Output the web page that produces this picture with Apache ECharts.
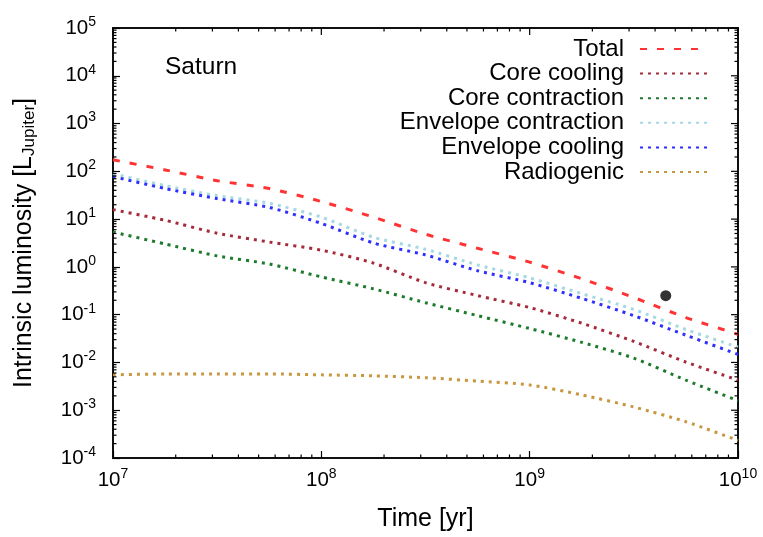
<!DOCTYPE html>
<html>
<head>
<meta charset="utf-8">
<script src="https://cdn.jsdelivr.net/npm/echarts@6/dist/echarts.min.js"></script>
<style>
  html, body { margin: 0; padding: 0; background: #fff; }
  #chart { width: 763px; height: 537px; }
</style>
</head>
<body>
<div id="chart"></div>
<script>
// Time grid (yr) on which the luminosity components are tabulated
const times = [1e7, 1.78e7, 3.16e7, 5.62e7, 1e8, 1.78e8, 3.16e8, 5.62e8, 1e9, 1.78e9, 3.16e9, 5.62e9, 1e10];

// Intrinsic luminosity components [L_Jupiter]
const total               = [174, 107, 63.8, 43.6, 23.4, 11.0, 4.84, 2.45, 1.26, 0.562, 0.229, 0.087, 0.039];
const coreCooling         = [15.8, 9.44, 5.07, 3.31, 2.24, 1.20, 0.468, 0.251, 0.141, 0.0661, 0.0275, 0.0102, 0.00427];
const coreContraction     = [5.37, 3.02, 1.70, 1.15, 0.617, 0.347, 0.178, 0.0955, 0.0513, 0.0263, 0.0123, 0.00427, 0.00158];
const envelopeContraction = [89.1, 50.1, 30.9, 21.4, 11.0, 4.17, 2.34, 1.10, 0.589, 0.275, 0.129, 0.049, 0.0209];
const envelopeCooling     = [77.6, 43.6, 26.9, 17.6, 8.13, 3.16, 1.78, 0.832, 0.468, 0.219, 0.0955, 0.0372, 0.0148];
const radiogenic          = [0.0055, 0.00575, 0.00575, 0.00575, 0.0055, 0.00525, 0.00479, 0.00407, 0.00339, 0.00209, 0.00117, 0.000575, 0.000234];

// Present-day Saturn
const saturnNow = [[4.5e9, 0.25]];

// Axis ranges and log minor-tick multipliers
const xRange = [1e7, 1e10];
const yRange = [1e-4, 1e5];
const xDecades = [7, 8, 9, 10];
const yDecades = [-4, -3, -2, -1, 0, 1, 2, 3, 4, 5];
const minorMultipliers = [2, 3, 4, 5, 6, 7, 8, 9];

const FONT = 'Liberation Sans, Arial, Helvetica, sans-serif';

function pairs(xs, ys) { return xs.map((x, i) => [x, ys[i]]); }

function powLabel(v) {
  const e = Math.round(Math.log10(v));
  return '{b|10}{s|' + e + '}';
}
const powRich = {
  b: { fontSize: 20.5, fontFamily: FONT, color: '#000', lineHeight: 24 },
  s: { fontSize: 14, fontFamily: FONT, color: '#000', lineHeight: 24, padding: [0, 0, 12, 0] }
};

// tick positions: majors on top/right, minors on all four sides
const xTickItems = [];
const yTickItems = [];
xDecades.forEach((d, i) => {
  xTickItems.push([Math.pow(10, d), yRange[0], 1]);
  if (i < xDecades.length - 1) minorMultipliers.forEach(m => xTickItems.push([m * Math.pow(10, d), yRange[0], 0]));
});
yDecades.forEach((d, i) => {
  yTickItems.push([xRange[0], Math.pow(10, d), 1]);
  if (i < yDecades.length - 1) minorMultipliers.forEach(m => yTickItems.push([xRange[0], m * Math.pow(10, d), 0]));
});

const TICK_MAJOR = 7, TICK_MINOR = 3.5;
function xTickRender(params, api) {
  const v = api.value(0);
  const major = api.value(2) === 1;
  const lo = api.coord([v, yRange[0]]);
  const hi = api.coord([v, yRange[1]]);
  const len = major ? TICK_MAJOR : TICK_MINOR;
  const style = { stroke: '#000', lineWidth: 1.2 };
  const children = [
    { type: 'line', shape: { x1: hi[0], y1: hi[1], x2: hi[0], y2: hi[1] + len }, style }
  ];
  if (!major) children.push({ type: 'line', shape: { x1: lo[0], y1: lo[1], x2: lo[0], y2: lo[1] - len }, style });
  return { type: 'group', children };
}
function yTickRender(params, api) {
  const v = api.value(1);
  const major = api.value(2) === 1;
  const lo = api.coord([xRange[0], v]);
  const hi = api.coord([xRange[1], v]);
  const len = major ? TICK_MAJOR : TICK_MINOR;
  const style = { stroke: '#000', lineWidth: 1.2 };
  const children = [
    { type: 'line', shape: { x1: hi[0], y1: hi[1], x2: hi[0] - len, y2: hi[1] }, style }
  ];
  if (!major) children.push({ type: 'line', shape: { x1: lo[0], y1: lo[1], x2: lo[0] + len, y2: lo[1] }, style });
  return { type: 'group', children };
}

function curve(name, data, color, dash) {
  return {
    name, type: 'line', data: pairs(times, data),
    showSymbol: false, symbol: 'none', smooth: 0.25,
    lineStyle: { color, width: 3, type: dash, cap: 'butt' },
    itemStyle: { color },
    emphasis: { disabled: true },
    z: 3
  };
}

const chart = echarts.init(document.getElementById('chart'), null, { renderer: 'canvas' });
chart.setOption({
  animation: false,
  backgroundColor: '#fff',
  title: {
    text: 'Saturn', left: 160, top: 50, padding: 5,
    textStyle: { fontSize: 24.5, fontWeight: 'normal', fontFamily: FONT, color: '#000' }
  },
  grid: {
    left: 113, right: 25, top: 28, bottom: 75,
    show: true, borderColor: '#111', borderWidth: 2, backgroundColor: 'transparent'
  },
  legend: {
    orient: 'vertical', right: 55, top: 37, align: 'right', padding: 0,
    itemWidth: 67, itemHeight: 14, itemGap: 0.6,
    data: ['Total', 'Core cooling', 'Core contraction', 'Envelope contraction', 'Envelope cooling', 'Radiogenic'],
    itemStyle: { opacity: 0 },
    textStyle: { fontSize: 24, fontFamily: FONT, color: '#000', lineHeight: 22, padding: [0, 11, 0, 0] },
    selectedMode: false
  },
  xAxis: {
    type: 'log', logBase: 10, min: xRange[0], max: xRange[1],
    name: 'Time [yr]', nameLocation: 'middle', nameGap: 49,
    nameTextStyle: { fontSize: 25, fontFamily: FONT, color: '#000' },
    axisLine: { show: false },
    axisTick: { show: true, inside: true, length: TICK_MAJOR, lineStyle: { color: '#000', width: 1.2 } },
    splitLine: { show: false },
    axisLabel: { formatter: powLabel, rich: powRich, margin: 10 }
  },
  yAxis: {
    type: 'log', logBase: 10, min: yRange[0], max: yRange[1],
    name: 'Intrinsic luminosity [L{sub|Jupiter}]', nameLocation: 'middle', nameGap: 75, nameRotate: 90,
    nameTextStyle: {
      fontSize: 25, fontFamily: FONT, color: '#000',
      rich: { sub: { fontSize: 17, fontFamily: FONT, color: '#000', padding: [11, 0, 0, 0] } }
    },
    axisLine: { show: false },
    axisTick: { show: true, inside: true, length: TICK_MAJOR, lineStyle: { color: '#000', width: 1.2 } },
    splitLine: { show: false },
    axisLabel: { formatter: powLabel, rich: powRich, margin: 17 }
  },
  series: [
    curve('Total', total, '#ff3333', [7, 10]),
    curve('Core cooling', coreCooling, '#a52a3a', [3, 5]),
    curve('Core contraction', coreContraction, '#1c7a2c', [3, 5]),
    curve('Envelope contraction', envelopeContraction, '#a4d8e2', [3, 5]),
    curve('Envelope cooling', envelopeCooling, '#2f2fff', [3, 5]),
    curve('Radiogenic', radiogenic, '#c8963e', [3, 5]),
    {
      name: 'Saturn today', type: 'scatter', data: saturnNow,
      symbol: 'circle', symbolSize: 11, itemStyle: { color: '#000' }, z: 4
    },
    { name: 'xticks', type: 'custom', data: xTickItems, renderItem: xTickRender, silent: true, z: 5 },
    { name: 'yticks', type: 'custom', data: yTickItems, renderItem: yTickRender, silent: true, z: 5 }
  ]
});
</script>
</body>
</html>
